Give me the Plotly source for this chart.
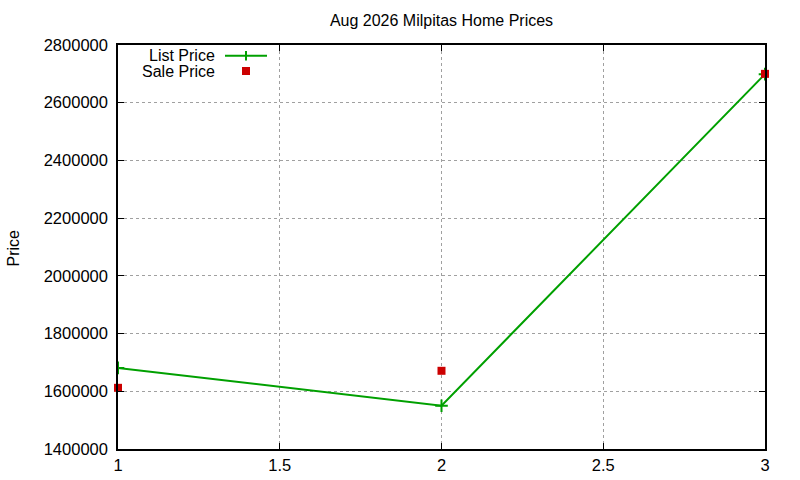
import plotly.graph_objects as go

# month index on x, price on y
months = [1, 2, 3]
list_price = [1681000, 1550000, 2699000]
sale_price = [1612000, 1671000, 2700000]

title = "Aug 2026 Milpitas Home Prices"
green = "#00a000"
red = "#cc0000"
font = "Liberation Sans, Arial, sans-serif"

fig = go.Figure()

fig.add_trace(go.Scatter(
    x=months,
    y=list_price,
    mode="lines+markers",
    name="List Price",
    line=dict(color=green, width=2),
    marker=dict(symbol="cross-thin", size=9, line=dict(color=green, width=2)),
))
fig.add_trace(go.Scatter(
    x=months,
    y=sale_price,
    mode="markers",
    name="Sale Price",
    marker=dict(symbol="square", size=8, color=red),
    cliponaxis=False,
))

W, H = 800, 480
ml, mr, mt, mb = 118, 35, 45, 31
pw, ph = W - ml - mr, H - mt - mb


def px(x):
    return (x - ml) / pw


def py(y):
    return 1 - (y - mt) / ph


# gnuplot-style legend: text right aligned, sample on the right
lx0, lx1, lxm = 225, 267, 246
rows = [(55.7, "List Price"), (71, "Sale Price")]
for yy, txt in rows:
    fig.add_annotation(
        x=px(217), y=py(yy), xref="paper", yref="paper",
        text=txt, showarrow=False, xanchor="right", yanchor="middle",
        font=dict(family=font, size=16, color="black"),
    )

fig.add_shape(type="line", xref="paper", yref="paper",
              x0=px(lx0), x1=px(lx1), y0=py(55.7), y1=py(55.7),
              line=dict(color=green, width=2))
fig.add_shape(type="line", xref="paper", yref="paper",
              x0=px(lxm), x1=px(lxm), y0=py(51), y1=py(60.5),
              line=dict(color=green, width=2))
fig.add_shape(type="rect", xref="paper", yref="paper",
              x0=px(lxm - 4), x1=px(lxm + 4), y0=py(67), y1=py(75),
              line=dict(width=0), fillcolor=red)

# y axis title
fig.add_annotation(
    x=px(12.5), y=py(248), xref="paper", yref="paper",
    text="Price", showarrow=False, textangle=-90,
    xanchor="center", yanchor="middle",
    font=dict(family=font, size=16, color="black"),
)

fig.update_layout(
    width=W,
    height=H,
    margin=dict(l=ml, r=mr, t=mt, b=mb),
    paper_bgcolor="white",
    plot_bgcolor="white",
    showlegend=False,
    font=dict(family=font, size=16.5, color="black"),
    title=dict(text=title, x=(ml + pw / 2) / W, xanchor="center",
               y=1 - 20 / H, yanchor="middle", font=dict(size=16)),
)

fig.update_xaxes(
    range=[1, 3],
    tickvals=[1, 1.5, 2, 2.5, 3],
    ticktext=["1", "1.5", "2", "2.5", "3"],
    ticks="inside",
    ticklen=6,
    tickcolor="black",
    showline=True,
    linecolor="black",
    linewidth=1.5,
    mirror="allticks",
    showgrid=True,
    gridcolor="#a0a0a0",
    griddash="dot",
    gridwidth=1,
    zeroline=False,
    automargin=False,
)
fig.update_yaxes(
    range=[1400000, 2800000],
    dtick=200000,
    tickformat="d",
    ticks="inside",
    ticklen=6,
    tickcolor="black",
    ticklabelstandoff=5,
    showline=True,
    linecolor="black",
    linewidth=1.5,
    mirror="allticks",
    showgrid=True,
    gridcolor="#a0a0a0",
    griddash="dot",
    gridwidth=1,
    zeroline=False,
    automargin=False,
)

# drop the default body margin so the figure sits at the window corner
fig.write_html("out.html",
               config={"displayModeBar": False},
               post_script="document.body.style.margin='0';"
                           "document.body.style.overflow='hidden';")
